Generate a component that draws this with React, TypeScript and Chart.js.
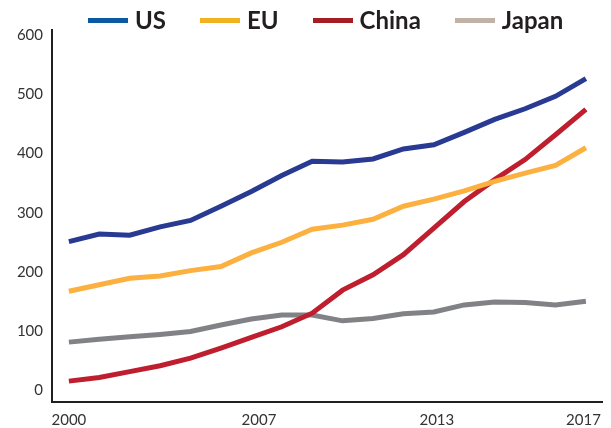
import { useEffect, useRef } from "react";
import { Chart, registerables } from "chart.js";

Chart.register(...registerables);

const years = [2000, 2001, 2002, 2003, 2004, 2005, 2006, 2007, 2008, 2009, 2010, 2011, 2012, 2013, 2014, 2015, 2016, 2017];
const seriesNames = ["US", "EU", "China", "Japan"];
const usValues = [251, 264, 262, 276, 287, 311, 336, 363, 387, 386, 391, 408, 415, 436, 458, 476, 497, 527];
const euValues = [167, 178, 189, 193, 202, 209, 232, 250, 272, 279, 289, 311, 323, 337, 353, 367, 380, 410];
const chinaValues = [15, 21, 31, 41, 54, 71, 89, 107, 130, 169, 195, 229, 274, 319, 356, 390, 432, 475];
const japanValues = [81, 86, 90, 94, 99, 110, 120, 127, 127, 117, 121, 129, 132, 144, 149, 148, 144, 150];
const yTickValues = [0, 100, 200, 300, 400, 500, 600];
const xTickValues = [2000, 2006.25, 2012.1, 2016.92];
const xTickLabels = ["2000", "2007", "2013", "2017"];

const seriesValues = [usValues, euValues, chinaValues, japanValues];
const lineColors = ["#283a92", "#fbb040", "#be1e2d", "#808285"];
const legendColors = ["#0b5aa0", "#f0b21f", "#a51e23", "#c2b2a6"];

const FONT = "Lato, 'Open Sans', sans-serif";

export default function App() {
  const ref = useRef<HTMLCanvasElement>(null);

  useEffect(() => {
    const chart = new Chart(ref.current!, {
      type: "line",
      data: {
        datasets: seriesNames.map((name, k) => ({
          label: name,
          data: years.map((yr, i) => ({ x: yr, y: seriesValues[k][i] })),
          borderColor: lineColors[k],
          backgroundColor: lineColors[k],
          borderWidth: 5,
          pointRadius: 0,
          tension: 0,
          fill: false,
        })),
      },
      options: {
        responsive: false,
        animation: false,
        layout: { padding: { top: 30, right: 4, left: 0, bottom: 0 } },
        plugins: {
          legend: { display: false },
          tooltip: { enabled: false },
        },
        scales: {
          x: {
            type: "linear",
            min: 1999.445,
            max: 2017.545,
            grid: { display: false, drawTicks: false },
            border: { display: true, color: "#231f20", width: 2 },
            ticks: {
              padding: 10,
              autoSkip: false,
              maxRotation: 0,
              color: "#333333",
              font: { family: FONT, size: 15 },
              callback: (_v: any, i: number) => xTickLabels[i] ?? "",
            },
            afterBuildTicks: (s: any) => {
              s.ticks = xTickValues.map((v) => ({ value: v }));
            },
            afterFit: (s: any) => {
              s.height = 26.5;
            },
          },
          y: {
            type: "linear",
            min: -19.5,
            max: 609.3,
            grid: { display: false, drawTicks: false },
            border: { display: true, color: "#231f20", width: 2 },
            ticks: {
              padding: 9,
              color: "#333333",
              font: { family: FONT, size: 15 },
            },
            afterBuildTicks: (s: any) => {
              s.ticks = yTickValues.map((v) => ({ value: v }));
            },
            afterFit: (s: any) => {
              s.width = 52;
            },
          },
        },
      },
    });
    return () => chart.destroy();
  }, []);

  return (
    <div style={{ position: "absolute", left: 0, top: 0, width: 611, height: 428, background: "#fff" }}>
      <canvas ref={ref} width={611} height={428} style={{ display: "block" }} />
      <div
        style={{
          position: "absolute",
          left: 88,
          top: 0,
          height: 40,
          display: "flex",
          alignItems: "center",
          gap: 34,
          fontFamily: FONT,
          fontWeight: 700,
          fontSize: 24,
          color: "#231f20",
        }}
      >
        {seriesNames.map((name, k) => (
          <div key={name} style={{ display: "flex", alignItems: "center", gap: 7 }}>
            <span style={{ display: "inline-block", width: 40, height: 5, background: legendColors[k] }} />
            <span style={{ lineHeight: "40px" }}>{name}</span>
          </div>
        ))}
      </div>
    </div>
  );
}
